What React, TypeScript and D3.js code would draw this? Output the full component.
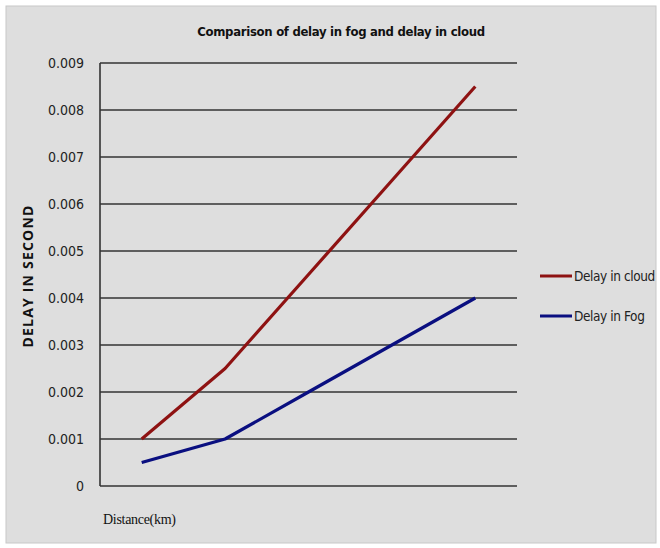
import { useEffect, useRef } from "react";
import * as d3 from "d3";

const distances = ["1", "2", "3", "4", "5"];
const delayCloud = [0.001, 0.0025, 0.0045, 0.0065, 0.0085];
const delayFog = [0.0005, 0.001, 0.002, 0.003, 0.004];
const yTicks = [0, 0.001, 0.002, 0.003, 0.004, 0.005, 0.006, 0.007, 0.008, 0.009];

const seriesList = [
  { name: "Delay in cloud", values: delayCloud, color: "#8e1212" },
  { name: "Delay in Fog", values: delayFog, color: "#0a0f80" },
];

export default function App() {
  const svgRef = useRef(null);

  useEffect(() => {
    if (!svgRef.current) return;
    const width = 660;
    const height = 548;
    const svg = d3.select(svgRef.current);
    svg.selectAll("*").remove();
    svg.attr("width", width).attr("height", height);

    const narrow = "'Liberation Sans Narrow', 'DejaVu Sans Condensed', 'Open Sans', sans-serif";

    svg.append("rect").attr("width", width).attr("height", height).attr("fill", "#ffffff");
    svg
      .append("rect")
      .attr("x", 6)
      .attr("y", 6)
      .attr("width", 650)
      .attr("height", 537)
      .attr("fill", "#dedede")
      .attr("stroke", "#c8c8c8");

    const left = 100;
    const right = 517;
    const top = 63;
    const bottom = 486;

    const x = d3.scaleBand().domain(distances).range([left, right]).padding(0);
    const y = d3.scaleLinear().domain([0, 0.009]).range([bottom, top]);

    // grid lines
    svg
      .append("g")
      .selectAll("line")
      .data(yTicks)
      .join("line")
      .attr("x1", left)
      .attr("x2", right)
      .attr("y1", (d) => y(d))
      .attr("y2", (d) => y(d))
      .attr("stroke", "#333")
      .attr("stroke-width", 1.6);

    svg
      .append("line")
      .attr("x1", left)
      .attr("x2", left)
      .attr("y1", top)
      .attr("y2", bottom)
      .attr("stroke", "#333")
      .attr("stroke-width", 1.6);

    svg
      .append("g")
      .selectAll("text")
      .data(yTicks)
      .join("text")
      .attr("x", 84)
      .attr("y", (d) => y(d) + 5)
      .attr("text-anchor", "end")
      .attr("font-family", narrow)
      .attr("font-size", "14px")
      .attr("fill", "#222")
      .text((d) => (d === 0 ? "0" : d3.format(".3f")(d)));

    const line = d3
      .line<number>()
      .x((_, i) => x(distances[i])! + x.bandwidth() / 2)
      .y((d) => y(d));

    seriesList.forEach((s) => {
      svg
        .append("path")
        .datum(s.values)
        .attr("d", line)
        .attr("fill", "none")
        .attr("stroke", s.color)
        .attr("stroke-width", 3.2)
        .attr("stroke-linejoin", "round");
    });

    // legend
    seriesList.forEach((s, i) => {
      const ly = 276 + i * 40;
      svg
        .append("line")
        .attr("x1", 540)
        .attr("x2", 572)
        .attr("y1", ly)
        .attr("y2", ly)
        .attr("stroke", s.color)
        .attr("stroke-width", 3);
      svg
        .append("text")
        .attr("x", 574)
        .attr("y", ly + 5)
        .attr("font-family", narrow)
        .attr("font-size", "13.5px")
        .attr("letter-spacing", "-0.4px")
        .attr("fill", "#222")
        .text(s.name);
    });

    svg
      .append("text")
      .attr("x", 341)
      .attr("y", 36)
      .attr("text-anchor", "middle")
      .attr("font-family", narrow)
      .attr("font-weight", "bold")
      .attr("font-size", "13px")
      .attr("letter-spacing", "-0.3px")
      .attr("fill", "#111")
      .text("Comparison of delay in fog and delay in cloud");

    svg
      .append("text")
      .attr("transform", "translate(33,276) rotate(-90)")
      .attr("text-anchor", "middle")
      .attr("font-family", "'Open Sans', 'DejaVu Sans', sans-serif")
      .attr("font-weight", "bold")
      .attr("font-size", "14px")
      .attr("letter-spacing", "1.2px")
      .attr("fill", "#111")
      .text("DELAY IN SECOND");

    svg
      .append("text")
      .attr("x", 103)
      .attr("y", 524)
      .attr("font-family", "'Liberation Serif', 'DejaVu Serif', serif")
      .attr("font-size", "14px")
      .attr("letter-spacing", "-0.3px")
      .attr("fill", "#111")
      .text("Distance(km)");
  }, []);

  return <svg ref={svgRef} style={{ position: "absolute", left: 0, top: 0, display: "block" }} />;
}
